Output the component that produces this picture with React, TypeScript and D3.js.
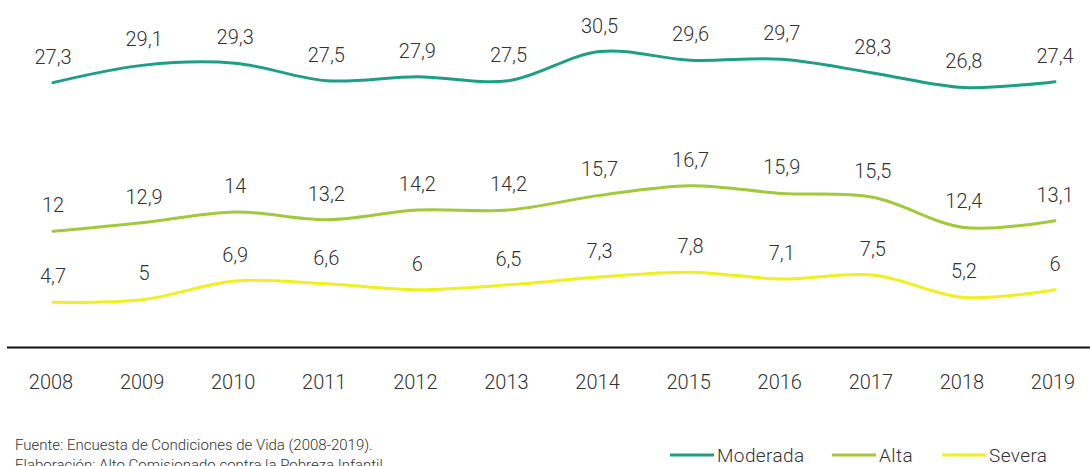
import React from "react";
import * as d3 from "d3";

const years = ["2008","2009","2010","2011","2012","2013","2014","2015","2016","2017","2018","2019"];
const moderada = [27.3,29.1,29.3,27.5,27.9,27.5,30.5,29.6,29.7,28.3,26.8,27.4];
const alta = [12,12.9,14,13.2,14.2,14.2,15.7,16.7,15.9,15.5,12.4,13.1];
const severa = [4.7,5,6.9,6.6,6,6.5,7.3,7.8,7.1,7.5,5.2,6];
const seriesNames = ["Moderada","Alta","Severa"];
const seriesColors = ["#1e9e85","#a3c83c","#eef020"];

const W = 1090, H = 466;
const FONT = "Roboto, 'Noto Sans', sans-serif";

export default function App() {
  const x = d3.scalePoint<string>().domain(years).range([53, 1055]);
  const y = d3.scaleLinear().domain([0, 35.8]).range([348, 0]);
  const line = d3.line<number>()
    .x((_, i) => x(years[i]) as number)
    .y((d) => y(d))
    .curve(d3.curveCatmullRom.alpha(0.5));
  const all = [moderada, alta, severa];
  const fmt = (v: number) => String(v).replace(".", ",");
  const legendX = [670, 832, 942];
  return (
    <svg width={W} height={H} style={{ position: "absolute", left: 0, top: 0, background: "#fff" }} fontFamily={FONT}>
      {all.map((s, k) => (
        <path key={k} d={line(s) || ""} fill="none" stroke={seriesColors[k]} strokeWidth={3} strokeLinecap="round" />
      ))}
      {all.map((s, k) =>
        s.map((v, i) => (
          <text key={k + "-" + i} x={x(years[i])} y={y(v) - 19} textAnchor="middle" fontSize={20} fontWeight={300} fill="#333">
            {fmt(v)}
          </text>
        ))
      )}
      <line x1={7} x2={1090} y1={347.5} y2={347.5} stroke="#111" strokeWidth={2} />
      {years.map((yr) => (
        <text key={yr} x={(x(yr) as number) - 2} y={389} textAnchor="middle" fontSize={20} fontWeight={300} fill="#333">
          {yr}
        </text>
      ))}
      <text x={15} y={450} fontSize={15} fontWeight={300} fill="#333">Fuente: Encuesta de Condiciones de Vida (2008-2019).</text>
      <text x={15} y={470} fontSize={15} fontWeight={300} fill="#333">Elaboración: Alto Comisionado contra la Pobreza Infantil.</text>
      {seriesNames.map((n, k) => (
        <g key={n}>
          <line x1={legendX[k]} x2={legendX[k] + 44} y1={455} y2={455} stroke={seriesColors[k]} strokeWidth={3} />
          <text x={legendX[k] + 47} y={462} fontSize={19} fontWeight={300} fill="#333" letterSpacing={0.4}>{n}</text>
        </g>
      ))}
    </svg>
  );
}
